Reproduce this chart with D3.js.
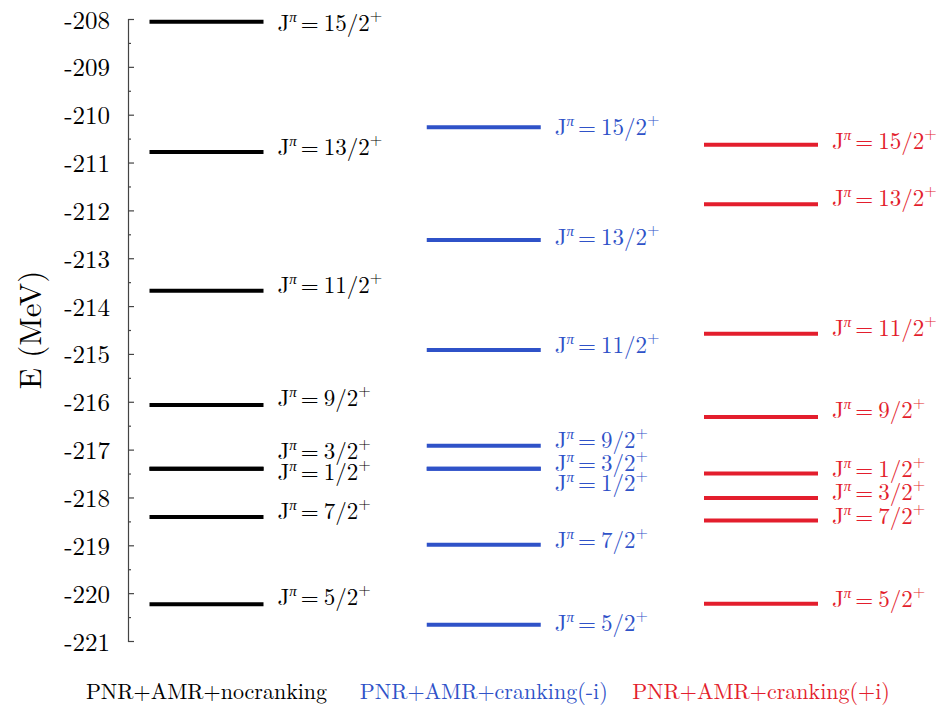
<!DOCTYPE html>
<html><head><meta charset="utf-8">
<script src="https://cdn.jsdelivr.net/npm/d3@7"></script>
<style>body{margin:0;background:#fff}svg{display:block}</style>
</head><body><svg id="c" width="940" height="709"></svg>
<script>
const seriesNames = ["PNR+AMR+nocranking", "PNR+AMR+cranking(-i)", "PNR+AMR+cranking(+i)"];
const seriesColors = ["#000000", "#2f52c8", "#e31e2d"];

const blackSpins = ["15/2","13/2","11/2","9/2","3/2","1/2","7/2","5/2"];
const blackE = [-208.06,-210.78,-213.68,-216.07,-217.40,-217.40,-218.41,-220.23];
const blackLabelE = [-208.08,-210.67,-213.56,-215.92,-217.03,-217.47,-218.28,-220.08];

const blueSpins = ["15/2","13/2","11/2","9/2","3/2","1/2","7/2","5/2"];
const blueE = [-210.26,-212.62,-214.92,-216.92,-217.40,-217.40,-218.99,-220.66];
const blueLabelE = [-210.26,-212.56,-214.81,-216.80,-217.28,-217.70,-218.89,-220.62];

const redSpins = ["15/2","13/2","11/2","9/2","1/2","3/2","7/2","5/2"];
const redE = [-210.63,-211.87,-214.58,-216.32,-217.50,-218.01,-218.48,-220.22];
const redLabelE = [-210.55,-211.75,-214.45,-216.17,-217.40,-217.89,-218.39,-220.12];

const yTicks = [-208,-209,-210,-211,-212,-213,-214,-215,-216,-217,-218,-219,-220,-221];
const yMinorTicks = [-208.5,-209.5,-210.5,-211.5,-212.5,-213.5,-214.5,-215.5,-216.5,-217.5,-218.5,-219.5,-220.5];

const series = [
  {name: seriesNames[0], color: seriesColors[0], spins: blackSpins, E: blackE, LE: blackLabelE},
  {name: seriesNames[1], color: seriesColors[1], spins: blueSpins, E: blueE, LE: blueLabelE},
  {name: seriesNames[2], color: seriesColors[2], spins: redSpins, E: redE, LE: redLabelE}
];

const font = "Latin Modern Roman, CMU Serif, Liberation Serif, serif";
const svg = d3.select("#c");
const axisX = 128;
const y = d3.scaleLinear().domain([-221, -208]).range([641, 19]);
const x = d3.scalePoint().domain(seriesNames).range([206.5, 761]);
const halfW = 57;

// axis
const ax = svg.append("g").attr("transform", `translate(${axisX},0)`)
  .call(d3.axisLeft(y).tickValues(yTicks).tickFormat(d => String(d))
    .tickSizeInner(-6).tickSizeOuter(-6).tickPadding(18));
ax.attr("font-family", null).attr("font-size", null);
ax.select(".domain").attr("stroke", "#444").attr("stroke-width", 1.2);
ax.selectAll(".tick line").attr("stroke", "#444").attr("stroke-width", 1.2);
ax.selectAll(".tick text").style("font-family", font).style("font-size", "25px").attr("fill", "#000").attr("dy", "0.36em");

const axm = svg.append("g").attr("transform", `translate(${axisX},0)`)
  .call(d3.axisLeft(y).tickValues(yMinorTicks).tickFormat("").tickSizeInner(-3).tickSizeOuter(0));
axm.select(".domain").remove();
axm.selectAll(".tick line").attr("stroke", "#444").attr("stroke-width", 1.2);

svg.append("text").attr("transform", "translate(41,330) rotate(-90)")
  .attr("text-anchor", "middle").style("font-family", font).style("font-size", "31px")
  .text("E (MeV)");

// levels
series.forEach(s => {
  const g = svg.append("g");
  const cx = x(s.name);
  const idx = d3.range(s.E.length);
  g.selectAll("line.lvl").data(idx).join("line")
    .attr("x1", cx - halfW).attr("x2", cx + halfW)
    .attr("y1", i => y(s.E[i])).attr("y2", i => y(s.E[i]))
    .attr("stroke", s.color).attr("stroke-width", 4);
  const t = g.selectAll("text.lbl").data(idx).join("text")
    .attr("x", cx + 71).attr("y", i => y(s.LE[i]) + 8)
    .style("font-family", font).style("font-size", "23px").attr("fill", s.color);
  t.append("tspan").text("J");
  t.append("tspan").attr("dy", -9).style("font-size", "15px").style("font-style", "italic").text("π");
  t.append("tspan").attr("dy", 9).attr("dx", 4).text("=");
  t.append("tspan").attr("dx", 5).text(i => s.spins[i]);
  t.append("tspan").attr("dy", -10).style("font-size", "16px").text("+");
  svg.append("text").attr("x", cx).attr("y", 699).attr("text-anchor", "middle")
    .style("font-family", font).style("font-size", "22px").attr("fill", s.color)
    .text(s.name);
});
</script></body></html>
